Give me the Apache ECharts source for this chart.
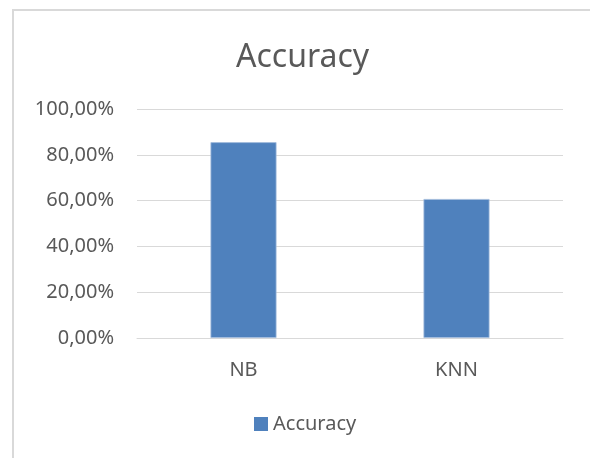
<!DOCTYPE html>
<html>
<head>
<meta charset="utf-8">
<script src="https://cdn.jsdelivr.net/npm/echarts@6/dist/echarts.min.js"></script>
<style>
  html, body { margin: 0; padding: 0; background: #fff; }
  #chart { width: 590px; height: 458px; }
</style>
</head>
<body>
<div id="chart"></div>
<script>
// data
var categories = ['NB', 'KNN'];
var accuracy = [0.855, 0.607];
var seriesName = 'Accuracy';

var myChart = echarts.init(document.getElementById('chart'));
var option = {
    animation: false,
    color: ['#4f81bd'],
    textStyle: { fontFamily: 'Noto Sans' },
    title: {
        text: 'Accuracy',
        left: 231,
        top: 37,
        textStyle: {
            color: '#595959',
            fontWeight: 'normal',
            fontFamily: 'Noto Sans',
            fontSize: 32
        }
    },
    graphic: [{
        type: 'rect',
        silent: true,
        shape: { x: 13, y: 10, width: 700, height: 600 },
        style: { fill: 'none', stroke: '#d9d9d9', lineWidth: 2 }
    }],
    legend: {
        data: [seriesName],
        left: 249,
        top: 409,
        icon: 'rect',
        itemWidth: 14,
        itemHeight: 14,
        itemGap: 6,
        itemStyle: { borderWidth: 0 },
        textStyle: { color: '#595959', fontSize: 20, fontFamily: 'Noto Sans' }
    },
    grid: {
        left: 137,
        right: 27,
        top: 109,
        bottom: 120
    },
    xAxis: {
        type: 'category',
        data: categories,
        axisTick: { show: false },
        axisLine: { lineStyle: { color: '#d9d9d9', width: 1 } },
        axisLabel: { color: '#595959', fontSize: 20, margin: 22 }
    },
    yAxis: {
        type: 'value',
        min: 0,
        max: 1,
        interval: 0.2,
        axisLine: { show: false },
        axisTick: { show: false },
        splitLine: { lineStyle: { color: '#d9d9d9', width: 1 } },
        axisLabel: {
            color: '#595959',
            fontSize: 20,
            margin: 23,
            formatter: function (v) {
                return (v * 100).toFixed(2).replace('.', ',') + '%';
            }
        }
    },
    series: [{
        name: seriesName,
        type: 'bar',
        data: accuracy,
        barWidth: '31%',
        itemStyle: { borderColor: '#a3bbdc', borderWidth: 0.8 }
    }]
};
myChart.setOption(option);
</script>
</body>
</html>
